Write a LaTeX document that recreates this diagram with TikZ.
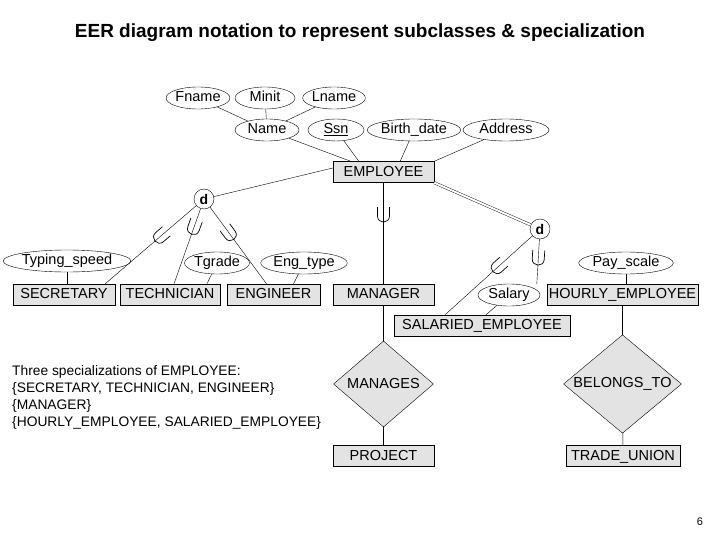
\documentclass[tikz,border=0pt]{standalone}
\usepackage{fontspec}
\setmainfont{Liberation Sans}
\usetikzlibrary{shapes.geometric,calc}
\newcommand{\subsetmk}[3]{%
  \coordinate (p) at ($(#1)!#3!(#2)$);
  \coordinate (bk) at ($(p)!9pt!180:(#2)$);
  \coordinate (fw) at ($(p)!8pt!(#2)$);
  \draw[line width=0.7pt] ($(bk)!6pt!90:(p)$) -- ($(p)!6pt!90:(#2)$) .. controls ($(fw)!6pt!-90:(p)$) and ($(fw)!6pt!90:(p)$) .. ($(p)!6pt!-90:(#2)$) -- ($(bk)!6pt!-90:(p)$);}
\begin{document}
\begin{tikzpicture}[x=1pt,y=-1pt,
  font=\fontsize{14.5}{17}\selectfont,
  ent/.style={draw,fill=gray!22,minimum height=21pt,inner sep=0pt,text height=10.5pt,text depth=2pt},
  att/.style={draw,ellipse,fill=white,minimum height=22pt,inner sep=0pt,text height=10.5pt,text depth=3pt},
  rel/.style={draw,diamond,aspect=1.2,fill=gray!22,inner sep=1pt},
  dn/.style={draw,circle,fill=white,minimum size=20pt,inner sep=0pt,font=\bfseries\fontsize{14}{15}\selectfont}
]
\useasboundingbox (0,0) rectangle (720,540);
\node[font=\bfseries\fontsize{19}{22}\selectfont] (title) at (360,33) {EER diagram notation to represent subclasses \& specialization};
\node[font=\fontsize{11}{13}\selectfont] (pg) at (700,522) {6};
% entities
\node[ent,minimum width=101pt] (emp) at (383.5,172) {EMPLOYEE};
\node[ent,minimum width=102pt] (sec) at (64,294.5) {SECRETARY};
\node[ent,minimum width=100pt] (tec) at (170,294.5) {TECHNICIAN};
\node[ent,minimum width=93pt] (eng) at (273.5,294.5) {ENGINEER};
\node[ent,minimum width=101pt] (man) at (383.5,294.5) {MANAGER};
\node[ent,minimum width=151pt] (hou) at (622.5,294.5) {HOURLY\_EMPLOYEE};
\node[ent,minimum width=176pt] (sal) at (482,325.5) {SALARIED\_EMPLOYEE};
\node[ent,minimum width=101pt] (pro) at (383.5,456) {PROJECT};
\node[ent,minimum width=114pt] (tra) at (623,456) {TRADE\_UNION};
\node[rel,minimum width=100pt,minimum height=86pt] (mgs) at (383.5,384) {MANAGES};
\node[rel,minimum width=116pt,minimum height=86pt] (bel) at (622.5,384) {BELONGS\_TO};
% attributes
\node[att,minimum width=62pt] (fn) at (198,98) {Fname};
\node[att,minimum width=60pt] (mi) at (265,98) {Minit};
\node[att,minimum width=62pt] (lna) at (334,98) {Lname};
\node[att,minimum width=64pt] (na) at (267,130) {Name};
\node[att,minimum width=56pt] (ssn) at (336,130) {\underline{Ssn}};
\node[att,minimum width=84pt] (bd) at (414,130) {Birth\_date};
\node[att,minimum width=86pt] (ad) at (506,130) {Address};
\node[att,minimum width=104pt] (ty) at (67,261) {Typing\_speed};
\node[att,minimum width=62pt] (tg) at (217,263) {Tgrade};
\node[att,minimum width=84pt] (et) at (304,263) {Eng\_type};
\node[att,minimum width=62pt] (sa) at (509,295) {Salary};
\node[att,minimum width=82pt] (ps) at (626,263) {Pay\_scale};
\node[dn] (d1) at (204,199) {d};
\node[dn] (d2) at (540,229) {d};
% attribute connectors
\draw (fn) -- (na); \draw (mi) -- (na); \draw (lna) -- (na);
\draw (na) -- ([xshift=18pt]emp.north west); \draw (ssn) -- ([xshift=26pt]emp.north west);
\draw (bd) -- ([xshift=-34pt]emp.north east); \draw (ad) -- (emp.north east);
\draw (ty) -- (ty|-sec.north);
\draw (tg) -- ([xshift=37pt]tec.north);
\draw (et) -- ([xshift=20pt]eng.north);
\draw (sa) -- ([xshift=4pt]sal.north);
\draw (ps) -- (ps|-hou.north);
% specialization
\coordinate (sE) at ([xshift=-10pt]sec.north east);
\coordinate (tN) at ([xshift=4pt]tec.north);
\coordinate (eN) at ([xshift=-7pt]eng.north);
\coordinate (saN) at ([xshift=-37pt]sal.north);
\coordinate (hN) at ([xshift=-10pt]hou.north west);
\draw (d1) -- ([yshift=4pt]emp.west);
\draw[double,double distance=2pt] (emp.south east) -- (d2);
\draw (d1) -- (sE); \subsetmk{d1}{sE}{0.45}
\draw (d1) -- (tN); \subsetmk{d1}{tN}{0.35}
\draw (d1) -- (eN); \subsetmk{d1}{eN}{0.42}
\draw (emp) -- (man); \subsetmk{emp.south}{man.north}{0.33}
\draw (d2) -- (saN); \subsetmk{d2}{saN}{0.45}
\draw (d2) -- (hN); \subsetmk{d2}{hN}{0.55}
% relationships
\draw (man) -- (mgs); \draw (mgs) -- (pro);
\draw (hou) -- (bel); \draw (bel) -- (tra);
\node[anchor=north west,align=left,inner sep=0pt,font=\fontsize{13.8}{17}\selectfont] (txt) at (12,365) {Three specializations of EMPLOYEE:\\\{SECRETARY, TECHNICIAN, ENGINEER\}\\\{MANAGER\}\\\{HOURLY\_EMPLOYEE, SALARIED\_EMPLOYEE\}};
\end{tikzpicture}
\end{document}
